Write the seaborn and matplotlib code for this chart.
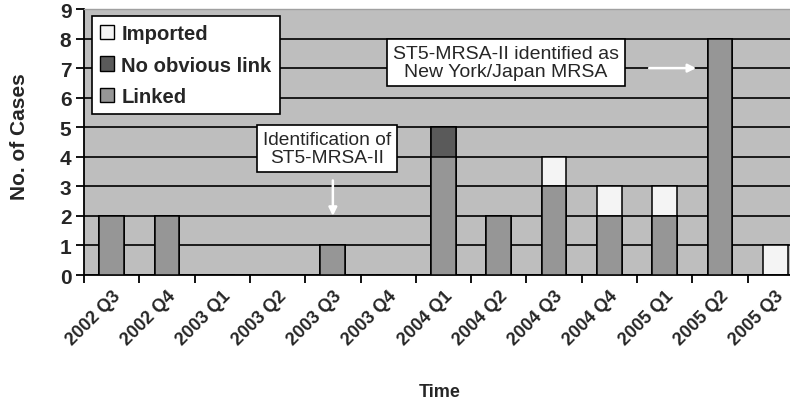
import matplotlib
matplotlib.use("Agg")
import matplotlib.pyplot as plt
import seaborn as sns
import pandas as pd
import numpy as np
from matplotlib.patches import Patch

quarters = ["2002 Q3", "2002 Q4", "2003 Q1", "2003 Q2", "2003 Q3", "2003 Q4",
            "2004 Q1", "2004 Q2", "2004 Q3", "2004 Q4", "2005 Q1", "2005 Q2", "2005 Q3"]
linked = [2, 2, 0, 0, 1, 0, 4, 2, 3, 2, 2, 8, 0]
no_link = [0, 0, 0, 0, 0, 0, 1, 0, 0, 0, 0, 0, 0]
imported = [0, 0, 0, 0, 0, 0, 0, 0, 1, 1, 1, 0, 1]

c_imp = "#f4f4f4"
c_nol = "#5a5a5a"
c_lnk = "#969696"
c_bg = "#bebebe"

sns.set_theme(style="white")
plt.rcParams["font.family"] = ["Liberation Sans", "DejaVu Sans"]

df = pd.DataFrame({"quarter": quarters, "linked": linked,
                   "no_link": no_link, "imported": imported})
df["lvl2"] = df["linked"] + df["no_link"]
df["total"] = df["lvl2"] + df["imported"]

fig = plt.figure(figsize=(7.9, 4.06), dpi=100)
ax = fig.add_axes([84 / 790, 130 / 406, 1 - 84 / 790, 266 / 406])
ax.set_facecolor(c_bg)

bw = 0.45
for col, colr in [("total", c_imp), ("lvl2", c_nol), ("linked", c_lnk)]:
    sns.barplot(data=df, x="quarter", y=col, order=quarters, color=colr,
                saturation=1, width=bw, edgecolor="black", linewidth=1.1,
                ax=ax, zorder=3)

ax.set_axisbelow(True)
ax.set_yticks(range(10))
ax.yaxis.grid(True, color="black", linewidth=1.2, zorder=0)
ax.xaxis.grid(False)

for s in ["left", "bottom"]:
    ax.spines[s].set_color("black")
    ax.spines[s].set_linewidth(1.3)
ax.spines["top"].set_color("#a0a0a0")
ax.spines["top"].set_linewidth(1.0)
ax.spines["right"].set_visible(False)

ax.set_xticks(np.arange(len(quarters)))
ax.set_xticks(np.arange(len(quarters) + 1) - 0.5, minor=True)
ax.tick_params(axis="x", which="major", length=0, pad=9)
ax.tick_params(axis="x", which="minor", length=6, width=1.3, color="black",
               direction="out", bottom=True)
ax.tick_params(axis="y", length=6, width=1.3, color="black", direction="out",
               left=True, pad=3)
ax.set_xticklabels(quarters, rotation=45, ha="right", rotation_mode="anchor",
                   fontsize=13, fontweight="bold")
for t in ax.get_yticklabels():
    t.set_fontsize(15)
    t.set_fontweight("bold")

ax.set_ylim(0, 9)
ax.set_xlim(-0.5, (790 - 84) / 55.3 - 0.5)

ax.set_xlabel("Time", fontsize=13, fontweight="bold")
ax.xaxis.set_label_coords((440 - 84) / 706, -(384 - 276) / 266)
ax.set_ylabel("No. of Cases", fontsize=15, fontweight="bold")
ax.yaxis.set_label_coords(-(84 - 29) / 706, (276 - 137) / 266)

handles = [Patch(facecolor=c_imp, edgecolor="black", linewidth=1.0, label="Imported"),
           Patch(facecolor=c_nol, edgecolor="black", linewidth=1.0, label="No obvious link"),
           Patch(facecolor=c_lnk, edgecolor="black", linewidth=1.0, label="Linked")]
leg = ax.legend(handles=handles, loc="upper left",
                bbox_to_anchor=((92 - 84) / 706, (276 - 17) / 266),
                prop={"weight": "bold", "size": 14.6}, frameon=True,
                fancybox=False, framealpha=1, edgecolor="black",
                handlelength=0.7, handleheight=0.7, handletextpad=0.35,
                labelspacing=0.62, borderpad=0.4, borderaxespad=0)
leg.get_frame().set_linewidth(1.2)
leg.set_zorder(10)

box = dict(boxstyle="square,pad=0.3", fc="white", ec="black", lw=1.2)
ax.text(3.89, 4.27, "Identification of\nST5-MRSA-II", ha="center", va="center",
        fontsize=13.8, bbox=box, zorder=6, linespacing=1.1)
ax.text(7.13, 7.2, "ST5-MRSA-II identified as\nNew York/Japan MRSA", ha="center",
        va="center", fontsize=14, bbox=box, zorder=6, linespacing=1.1)

ax.annotate("", xy=(4.0, 2.0), xytext=(4.0, 3.2),
            arrowprops=dict(arrowstyle="-|>", color="white", lw=1.8,
                            mutation_scale=12, shrinkA=0, shrinkB=0), zorder=6)
ax.annotate("", xy=(10.57, 7.0), xytext=(9.72, 7.0),
            arrowprops=dict(arrowstyle="-|>", color="white", lw=1.8,
                            mutation_scale=12, shrinkA=0, shrinkB=0), zorder=6)

fig.savefig("out.png", dpi=100)
